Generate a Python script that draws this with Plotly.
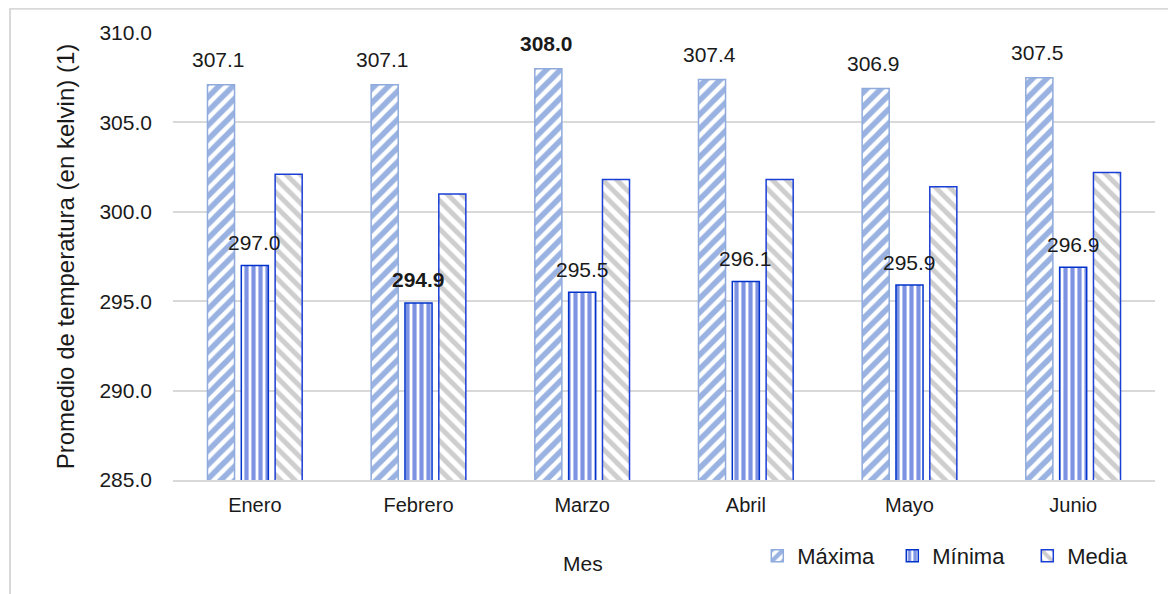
import plotly.graph_objects as go

# Datos: promedio mensual de temperatura (K)
meses = ["Enero", "Febrero", "Marzo", "Abril", "Mayo", "Junio"]
maxima = [307.1, 307.1, 308.0, 307.4, 306.9, 307.5]
minima = [297.0, 294.9, 295.5, 296.1, 295.9, 296.9]
media = [302.1, 301.0, 301.8, 301.8, 301.4, 302.2]

y_ticks = [285, 290, 295, 300, 305, 310]

fuente = "Liberation Sans, Arial, sans-serif"

fig = go.Figure()

fig.add_trace(go.Bar(
    x=meses, y=maxima, name="Máxima",
    marker=dict(color="white", line=dict(color="#8FAADC", width=1.5),
                pattern=dict(shape="/", fgcolor="#3366C4", bgcolor="white", size=10, solidity=0.55)),
))
fig.add_trace(go.Bar(
    x=meses, y=minima, name="Mínima",
    marker=dict(color="white", line=dict(color="#0033CC", width=1.5),
                pattern=dict(shape="|", fgcolor="#0028C8", bgcolor="white", size=7, solidity=0.6)),
))
fig.add_trace(go.Bar(
    x=meses, y=media, name="Media",
    marker=dict(color="white", line=dict(color="#1A3FD6", width=1.5),
                pattern=dict(shape="\\", fgcolor="#9E9E9E", bgcolor="white", size=10, solidity=0.5)),
))

# Etiquetas de datos (negrita para el máximo de Máxima y el mínimo de Mínima)
def etiqueta(v, destacar):
    t = f"{v:.1f}"
    return f"<b>{t}</b>" if destacar else t

for i, mes in enumerate(meses):
    fig.add_annotation(x=mes, y=maxima[i], xshift=-36, yshift=25, yanchor="middle",
                       text=etiqueta(maxima[i], maxima[i] == max(maxima)),
                       showarrow=False, font=dict(size=21, color="#1a1a1a"))
    fig.add_annotation(x=mes, y=minima[i], xshift=0, yshift=23, yanchor="middle",
                       text=etiqueta(minima[i], minima[i] == min(minima)),
                       showarrow=False, font=dict(size=21, color="#1a1a1a"))

# Título del eje X (desplazado como en el original)
fig.add_annotation(x=0.4175, y=-0.186, xref="paper", yref="paper", text="Mes",
                   showarrow=False, yanchor="middle", font=dict(size=21, color="#1a1a1a"))

# Marco del gráfico
fig.add_shape(type="line", xref="paper", yref="paper", x0=-0.167, x1=1.05, y0=1.054, y1=1.054,
              line=dict(color="#d9d9d9", width=2))
fig.add_shape(type="line", xref="paper", yref="paper", x0=-0.166, x1=-0.166, y0=1.054, y1=-0.3,
              line=dict(color="#d9d9d9", width=2))

fig.update_layout(
    width=1168, height=586,
    margin=dict(l=165, r=21, t=25, b=114),
    paper_bgcolor="white", plot_bgcolor="white",
    font=dict(family=fuente, size=20, color="#1a1a1a"),
    barmode="group", bargap=0.38, bargroupgap=0.2,
    showlegend=True,
    legend=dict(orientation="h", x=0.595, y=-0.17, xanchor="left", yanchor="middle",
                font=dict(size=22), itemwidth=30, entrywidth=90, entrywidthmode="pixels",
                traceorder="normal"),
    xaxis=dict(showline=True, linecolor="#d9d9d9", linewidth=2, ticks="",
               tickfont=dict(size=20), ticklabelstandoff=6),
    yaxis=dict(range=[285, 310], tickvals=y_ticks, tickformat=".1f",
               showgrid=True, gridcolor="#d9d9d9", gridwidth=1.5, zeroline=False,
               tickfont=dict(size=21), ticklabelstandoff=20,
               title=dict(text="Promedio de temperatura (en kelvin) (1)", font=dict(size=24), standoff=18)),
)

fig.write_html("out.html")
